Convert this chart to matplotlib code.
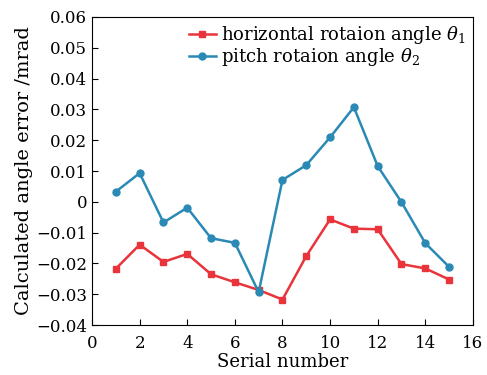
import matplotlib
matplotlib.use('Agg')
import matplotlib.pyplot as plt

plt.rcParams['font.family'] = 'DejaVu Serif'
plt.rcParams['mathtext.fontset'] = 'dejavuserif'

serial = list(range(1, 16))
horiz = [-0.0217, -0.0139, -0.0195, -0.0169, -0.0235, -0.0261, -0.0286, -0.0317,
         -0.0176, -0.0057, -0.0087, -0.0089, -0.0202, -0.0216, -0.0252]
pitch = [0.0033, 0.0093, -0.0067, -0.0019, -0.0118, -0.0133, -0.0293, 0.0071,
         0.0119, 0.0209, 0.0307, 0.0116, -0.0001, -0.0134, -0.0211]

fig = plt.figure(figsize=(4.87, 3.75), dpi=100)
ax = fig.add_axes([0.189, 0.133, 0.782, 0.822])

ax.plot(serial, horiz, color='#e8343a', marker='s', markersize=4.5, lw=1.8,
        label=r'horizontal rotaion angle $\theta_1$')
ax.plot(serial, pitch, color='#2a8ab5', marker='o', markersize=5, lw=1.8,
        label=r'pitch rotaion angle $\theta_2$')

ax.set_xlim(0, 16)
ax.set_ylim(-0.04, 0.06)
ax.set_xticks(range(0, 17, 2))
ax.set_yticks([-0.04, -0.03, -0.02, -0.01, 0, 0.01, 0.02, 0.03, 0.04, 0.05, 0.06])
ax.set_yticklabels(['\u22120.04', '\u22120.03', '\u22120.02', '\u22120.01', '0',
                    '0.01', '0.02', '0.03', '0.04', '0.05', '0.06'])
ax.tick_params(direction='in', labelsize=12, length=4)
ax.tick_params(axis='x', pad=7)
ax.set_xlabel('Serial number', fontsize=13, labelpad=1)
ax.set_ylabel('Calculated angle error /mrad', fontsize=14, labelpad=2)

ax.legend(loc='upper right', frameon=False, fontsize=13, handlelength=1.5,
          handletextpad=0.3, labelspacing=0.0, borderaxespad=0.1,
          borderpad=0.3)

fig.savefig('out.png', dpi=100)
